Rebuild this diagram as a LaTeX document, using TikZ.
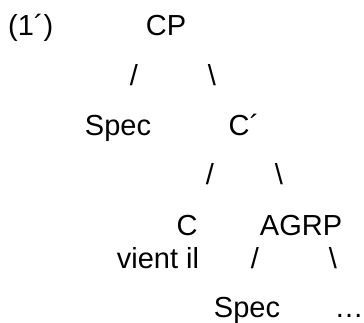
\documentclass[tikz,border=0pt]{standalone}
\usepackage{fontspec}
\setmainfont{Liberation Sans}
\usepackage{tikz}

\begin{document}
\begin{tikzpicture}[
    x=1pt, y=-1pt,
    label/.style={anchor=base, inner sep=0pt, font=\fontsize{29}{31}\selectfont},
    branch/.style={label}
]
\useasboundingbox (0,0) rectangle (364,322);

% Example number
\node[label, anchor=base west] (num) at (8,35) {(1´)};

% Row 1: CP
\node[label] (cp) at (166,35) {CP};
\node[branch] (cpl) at (134,85) {/};
\node[branch] (cpr) at (212,85) {\textbackslash};

% Row 2: Spec and C'
\node[label] (spec1) at (118,135) {Spec};
\node[label] (cbar) at (244,135) {C´};
\node[branch] (cbarl) at (210,184) {/};
\node[branch] (cbarr) at (279,184) {\textbackslash};

% Row 3: C and AGRP, with the verb right under C
\node[label] (c) at (187,235) {C};
\node[label] (agrp) at (301,235) {AGRP};
\node[label] (verb) at (158,268) {vient il};
\node[branch] (agrpl) at (255,268) {/};
\node[branch] (agrpr) at (333,268) {\textbackslash};

% Row 4: Spec and the rest
\node[label] (spec2) at (247,317) {Spec};
\node[label] (dots) at (349,317) {…};

\end{tikzpicture}
\end{document}
